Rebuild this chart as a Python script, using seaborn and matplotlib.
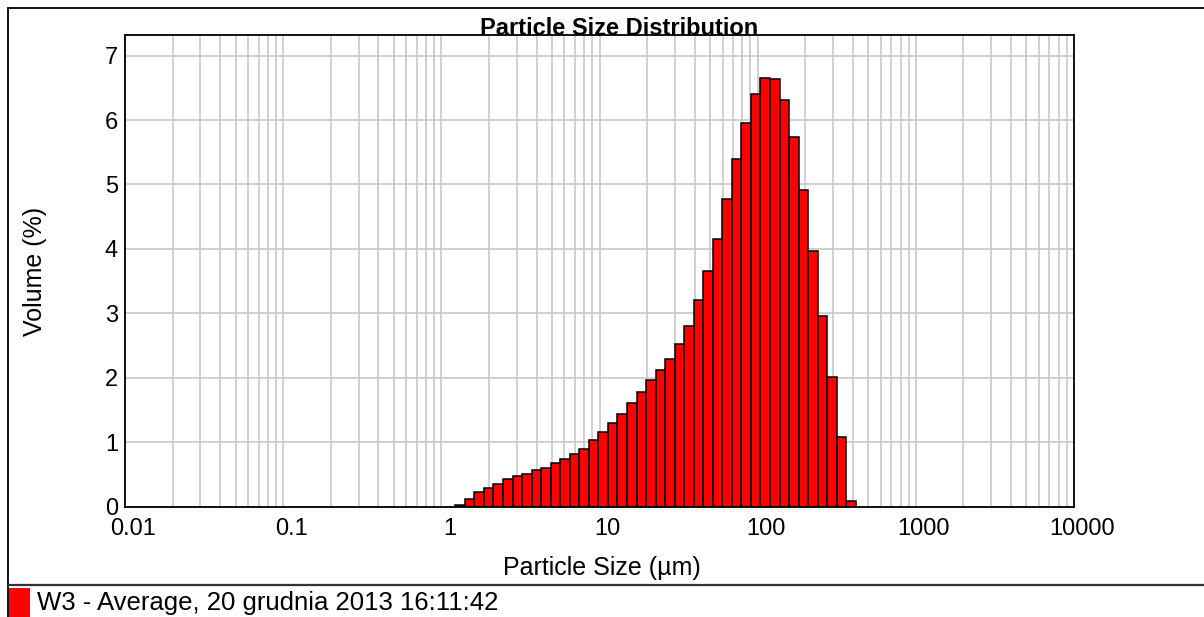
import numpy as np
import pandas as pd
import matplotlib
matplotlib.use('Agg')
import matplotlib.pyplot as plt
import matplotlib.transforms as mtransforms
from matplotlib.lines import Line2D
from matplotlib.patches import Rectangle
import seaborn as sns

# Size classes (um), lower/upper bounds
size_edges = [1.226, 1.409, 1.619, 1.860, 2.137, 2.455, 2.820, 3.241, 3.723,
              4.278, 4.914, 5.646, 6.486, 7.452, 8.561, 9.835, 11.30, 12.98,
              14.92, 17.14, 19.69, 22.62, 25.99, 29.85, 34.30, 39.40, 45.27,
              52.01, 59.75, 68.65, 78.88, 90.63, 104.1, 119.6, 137.5, 157.9,
              181.4, 208.4, 239.4, 275.1, 316.1, 363.2, 417.3]

# Volume (%) in each class
volume_pct = [0.03, 0.12, 0.22, 0.29, 0.35, 0.42, 0.48, 0.51, 0.57, 0.60,
              0.67, 0.74, 0.81, 0.90, 1.03, 1.16, 1.29, 1.44, 1.61, 1.77,
              1.97, 2.12, 2.29, 2.53, 2.81, 3.20, 3.65, 4.15, 4.77, 5.39,
              5.96, 6.41, 6.66, 6.63, 6.31, 5.73, 4.92, 3.96, 2.96, 2.01,
              1.08, 0.08]

x_ticks = [0.01, 0.1, 1, 10, 100, 1000, 10000]
x_ticklabels = ['0.01', '0.1', '1', '10', '100', '1000', '10000']
y_ticks = [0, 1, 2, 3, 4, 5, 6, 7]

legend_label = 'W3 - Average, 20 grudnia 2013 16:11:42'

sns.set_style('white')
plt.rcParams['font.family'] = ['Liberation Sans', 'DejaVu Sans']
plt.rcParams['text.color'] = 'black'
plt.rcParams['xtick.color'] = 'black'
plt.rcParams['ytick.color'] = 'black'

W, H = 1204, 617
fig = plt.figure(figsize=(W / 100, H / 100), dpi=100)

# plot area in pixels: left 125, right 1074, top 35, bottom 506.5
ax = fig.add_axes([125 / W, (H - 506.5) / H, (1074 - 125) / W, (506.5 - 35) / H])

edges = np.array(size_edges)
mids = np.sqrt(edges[:-1] * edges[1:])
psd = pd.DataFrame({'size': mids, 'volume': volume_pct})

# seaborn bins in log10 space when log_scale is on
log_bins = [float(v) for v in np.log10(edges)]
sns.histplot(data=psd, x='size', weights='volume', bins=log_bins,
             log_scale=True, color='#ff0000', edgecolor='black',
             linewidth=1.1, alpha=1, ax=ax)

ax.set_xlim(0.01, 10000)
ax.set_ylim(0, 7.32)
ax.set_axisbelow(True)

ax.set_xticks(x_ticks)
ax.set_xticklabels(x_ticklabels)
ax.set_xticks([m * d for d in x_ticks[:-1] for m in range(2, 10)], minor=True)
ax.set_yticks(y_ticks)
ax.set_yticklabels([str(v) for v in y_ticks])

ax.grid(True, which='both', axis='x', color='#c8c8c8', linewidth=1.2)
ax.grid(True, which='major', axis='y', color='#c8c8c8', linewidth=1.2)
ax.tick_params(which='both', length=0)
ax.tick_params(axis='x', pad=8, labelsize=17, labelcolor='black')
ax.tick_params(axis='y', pad=5, labelsize=17, labelcolor='black')

shift = mtransforms.ScaledTranslation(0.08, 0, fig.dpi_scale_trans)
for lbl in ax.get_xticklabels():
    lbl.set_transform(lbl.get_transform() + shift)

for sp in ax.spines.values():
    sp.set_color('black')
    sp.set_linewidth(1.3)

ax.set_xlabel('')
ax.set_ylabel('')

fig.text(619 / W, 1 - 35 / H, 'Particle Size Distribution', ha='center',
         va='baseline', fontsize=17, fontweight='bold', color='black')
fig.text(602 / W, 1 - 568 / H, 'Particle Size (\u00b5m)', ha='center',
         va='center', fontsize=18, color='black')
fig.text(35 / W, 1 - 271 / H, 'Volume (%)', ha='center', va='center',
         rotation=90, fontsize=18, color='black')

# outer frame and legend strip
def px_line(x0, y0, x1, y1, color='black', lw=1.3):
    fig.add_artist(Line2D([x0 / W, x1 / W], [1 - y0 / H, 1 - y1 / H],
                          transform=fig.transFigure, color=color, linewidth=lw))

px_line(8, 8, W, 8)
px_line(8, 8, 8, H)
px_line(8, 585, W, 585, color='#333333', lw=1.6)

fig.add_artist(Rectangle((9 / W, 0), 21 / W, (H - 588) / H,
                         transform=fig.transFigure, facecolor='#ff0000',
                         edgecolor='none'))
fig.text(37 / W, 1 - 603 / H, legend_label, ha='left', va='center',
         fontsize=18.5, color='black')

fig.savefig('out.png', dpi=100)
